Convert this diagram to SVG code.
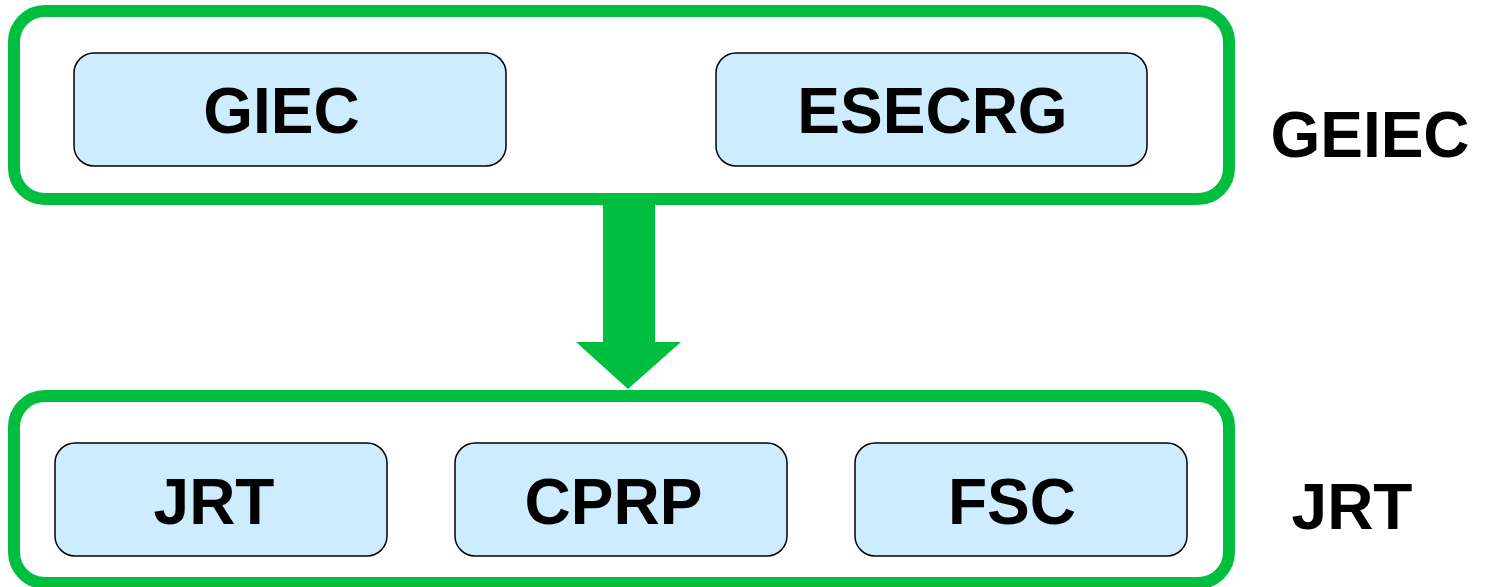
<svg xmlns="http://www.w3.org/2000/svg" width="1485" height="587" viewBox="0 0 1485 587">
<style>
.container{fill:#ffffff;stroke:#00bf3f;stroke-width:12}
.box{fill:#cdecfd;stroke:#000000;stroke-width:1.5}
.lbl{font-family:"Liberation Sans",Arial,sans-serif;font-weight:bold;font-size:64px;fill:#000000;text-anchor:middle}
.arrow{fill:#00bf3f;stroke:none}
</style>
<rect width="1485" height="587" fill="#ffffff"/>
<g id="top-group">
<rect class="container" x="14" y="11" width="1215" height="188" rx="31" ry="31"/>
<text class="lbl" x="1370" y="157">GEIEC</text>
</g>
<g id="bottom-group">
<rect class="container" x="14" y="396" width="1215" height="187" rx="31" ry="31"/>
<text class="lbl" x="1352" y="529">JRT</text>
</g>
<g id="connectors">
<polygon class="arrow" points="603,204 655,204 655,342 681,342 628,389 576,342 603,342"/>
</g>
<g id="node-giec">
<rect class="box" x="74" y="53" width="432" height="113" rx="20" ry="20"/>
<text class="lbl" x="281.5" y="133">GIEC</text>
</g>
<g id="node-esecrg">
<rect class="box" x="716" y="53" width="431" height="113" rx="20" ry="20"/>
<text class="lbl" x="932.5" y="133">ESECRG</text>
</g>
<g id="node-jrt">
<rect class="box" x="55" y="443" width="332" height="113" rx="20" ry="20"/>
<text class="lbl" x="214" y="524">JRT</text>
</g>
<g id="node-cprp">
<rect class="box" x="455" y="443" width="332" height="113" rx="20" ry="20"/>
<text class="lbl" x="613.5" y="524">CPRP</text>
</g>
<g id="node-fsc">
<rect class="box" x="855" y="443" width="332" height="113" rx="20" ry="20"/>
<text class="lbl" x="1012" y="524">FSC</text>
</g>
</svg>
